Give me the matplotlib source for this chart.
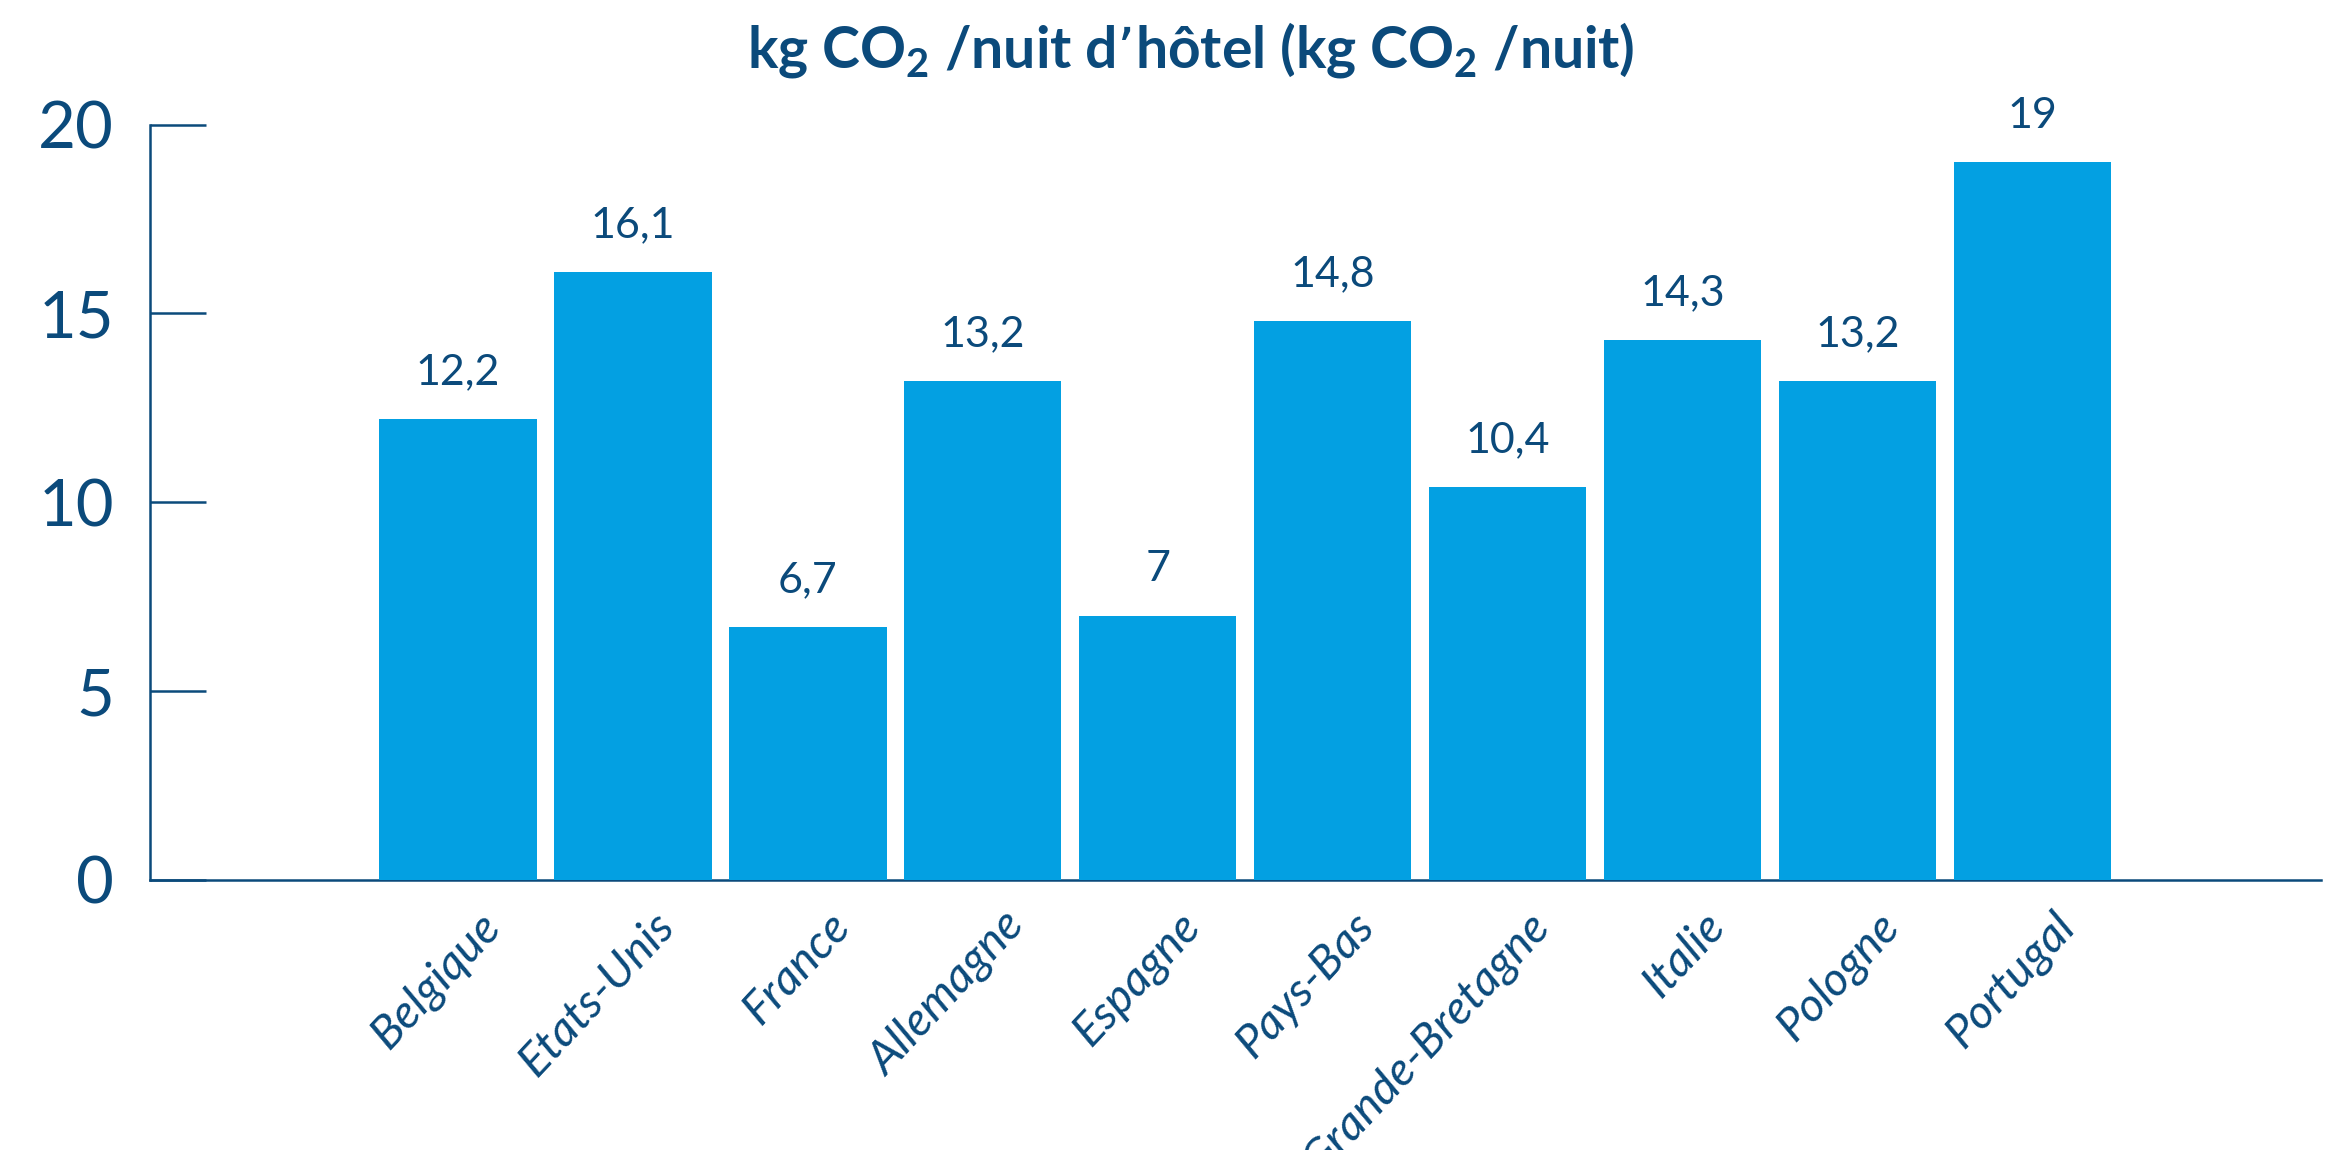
import matplotlib.pyplot as plt
from matplotlib.transforms import ScaledTranslation

pays = ['Belgique', 'Etats-Unis', 'France', 'Allemagne', 'Espagne',
        'Pays-Bas', 'Grande-Bretagne', 'Italie', 'Pologne', 'Portugal']
kg_co2 = [12.2, 16.1, 6.7, 13.2, 7.0, 14.8, 10.4, 14.3, 13.2, 19.0]
y_ticks = [0, 5, 10, 15, 20]

navy = '#0b4a7b'
bleu = '#03a0e2'

plt.rcParams['font.family'] = ['Lato', 'DejaVu Sans']
plt.rcParams['mathtext.default'] = 'regular'

fig = plt.figure(figsize=(23.26, 11.5), dpi=100)
ax = fig.add_axes([0.0645, 0.2348, 0.9334, 0.6569])

x = list(range(len(pays)))
ax.bar(x, kg_co2, width=0.9, color=bleu, zorder=3)

# valeurs au-dessus des barres, virgule décimale
for xi, v in zip(x, kg_co2):
    txt = f'{v:g}'.replace('.', ',')
    ax.annotate(txt, (xi, v), xytext=(0, 20), textcoords='offset points',
                ha='center', va='bottom', fontsize=31, color=navy)

ax.set_xlim(-1.76, 10.65)
ax.set_ylim(0, 20)
ax.set_yticks(y_ticks)
ax.set_yticklabels([str(t) for t in y_ticks])
ax.set_xticks(x)

ax.tick_params(axis='x', length=0, pad=28)
ax.tick_params(axis='y', direction='in', length=40, width=1.8, color=navy,
               labelsize=47, labelcolor=navy, pad=26)

ax.set_xticklabels(pays, rotation=47, ha='right', va='center',
                   rotation_mode='anchor', fontsize=34, style='italic',
                   color=navy)

# décale les noms de pays vers la droite (après tick_params, qui remet le transform)
shift = ScaledTranslation(0.35, 0, fig.dpi_scale_trans)
for lab in ax.get_xticklabels():
    lab.set_transform(lab.get_transform() + shift)

for side in ['top', 'right']:
    ax.spines[side].set_visible(False)
for side in ['left', 'bottom']:
    ax.spines[side].set_color(navy)
    ax.spines[side].set_linewidth(1.8)

fig.text(0.512, 1 - 68 / 1150,
         'kg CO$_2$ /nuit d’hôtel (kg CO$_2$ /nuit)',
         ha='center', va='baseline', fontsize=41, fontweight='bold',
         color=navy)

fig.savefig('out.png', dpi=100)
